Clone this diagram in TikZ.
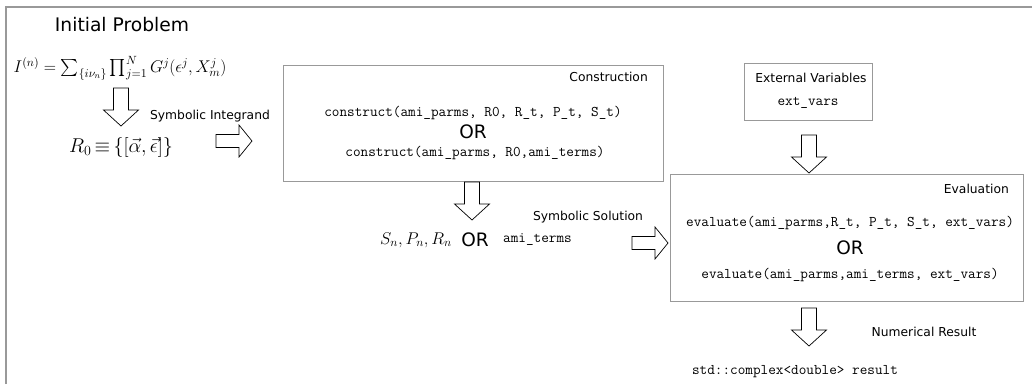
\RequirePackage{fix-cm}
\documentclass[tikz,border=0pt]{standalone}
\usepackage{fontspec}
\setsansfont{DejaVu Sans}
\usepackage{amssymb}
\usepackage{amsmath}
\usetikzlibrary{positioning}

\tikzset{
  frameline/.style={draw=black!40, line width=1.2pt},
  boxline/.style={draw=black!40, line width=0.9pt},
  lbl/.style={font=\fontsize{12.3}{14}\sffamily, inner sep=0pt},
  code/.style={font=\fontsize{14.8}{17}\ttfamily, inner sep=0pt},
  ortxt/.style={font=\fontsize{18.5}{20}\sffamily, inner sep=0pt},
  downarr/.pic={\draw[line width=0.7pt] (-7.5,0) -- (7.5,0) -- (7.5,22) -- (17.5,22)
     -- (0,38) -- (-17.5,22) -- (-7.5,22) -- cycle;},
  rightarr/.pic={\draw[line width=0.7pt] (0,-6.5) -- (23,-6.5) -- (23,-16) -- (36,0)
     -- (23,16) -- (23,6.5) -- (0,6.5) -- cycle;}
}

\begin{document}
\begin{tikzpicture}[x=1pt, y=-1pt]
   \useasboundingbox (0,0) rectangle (1032,384);
   % outer frame, open at right and bottom
   \draw[frameline] (6,384) -- (6,7) -- (1032,7);

   % initial problem
   \node[font=\fontsize{18.7}{20}\sffamily, inner sep=0pt] (init) at (122,25) {Initial Problem};
   \node[inner sep=0pt, font=\fontsize{17}{19}\selectfont] (integral) at (120,68)
      {$I^{(n)}=\sum_{\{i\nu_n\}}\prod_{j=1}^{N}G^{j}(\epsilon^{j},X^{j}_{m})$};
   \pic at (121,88) {downarr};
   \node[lbl] (symint) at (210,116) {Symbolic Integrand};
   \node[inner sep=0pt, font=\fontsize{20}{22}\selectfont] (rzero) at (121,147)
      {$R_0\,{\equiv}\,\{[\vec{\alpha},\vec{\epsilon}]\}$};
   \pic at (216,141) {rightarr};

   % construction
   \draw[boxline] (283,65) rectangle (663,181);
   \node[lbl, anchor=east] (constr) at (648,77) {Construction};
   \node[code] (con1) at (473,113) {construct(ami\_parms, R0, R\_t, P\_t, S\_t)};
   \node[ortxt] (or1) at (473,132) {OR};
   \node[code] (con2) at (475,153) {construct(ami\_parms, R0,ami\_terms)};
   \pic at (472,182) {downarr};

   % symbolic solution
   \node[inner sep=0pt, font=\fontsize{17}{19}\selectfont, anchor=west] (snpr) at (380,240) {$S_n,P_n,R_n$};
   \node[ortxt] (or2) at (475,240) {OR};
   \node[code, anchor=west] (amiterms) at (503,240) {ami\_terms};
   \node[lbl] (symsol) at (588,217) {Symbolic Solution};
   \pic at (632,243) {rightarr};

   % external variables
   \draw[boxline] (744,63) rectangle (872,120);
   \node[lbl] (extlbl) at (811,78) {External Variables};
   \node[code] (extvars) at (808,103) {ext\_vars};
   \pic at (809,135) {downarr};

   % evaluation
   \draw[boxline] (670,174) rectangle (1023,301);
   \node[lbl, anchor=east] (evallbl) at (1009,189) {Evaluation};
   \node[code] (eval1) at (850,223) {evaluate(ami\_parms,R\_t, P\_t, S\_t, ext\_vars)};
   \node[ortxt] (or3) at (850,248) {OR};
   \node[code] (eval2) at (850,275) {evaluate(ami\_parms,ami\_terms, ext\_vars)};
   \pic at (809,308) {downarr};

   % result
   \node[lbl] (numres) at (924,332) {Numerical Result};
   \node[code] (result) at (795,372) {std::complex<double> result};
\end{tikzpicture}
\end{document}
